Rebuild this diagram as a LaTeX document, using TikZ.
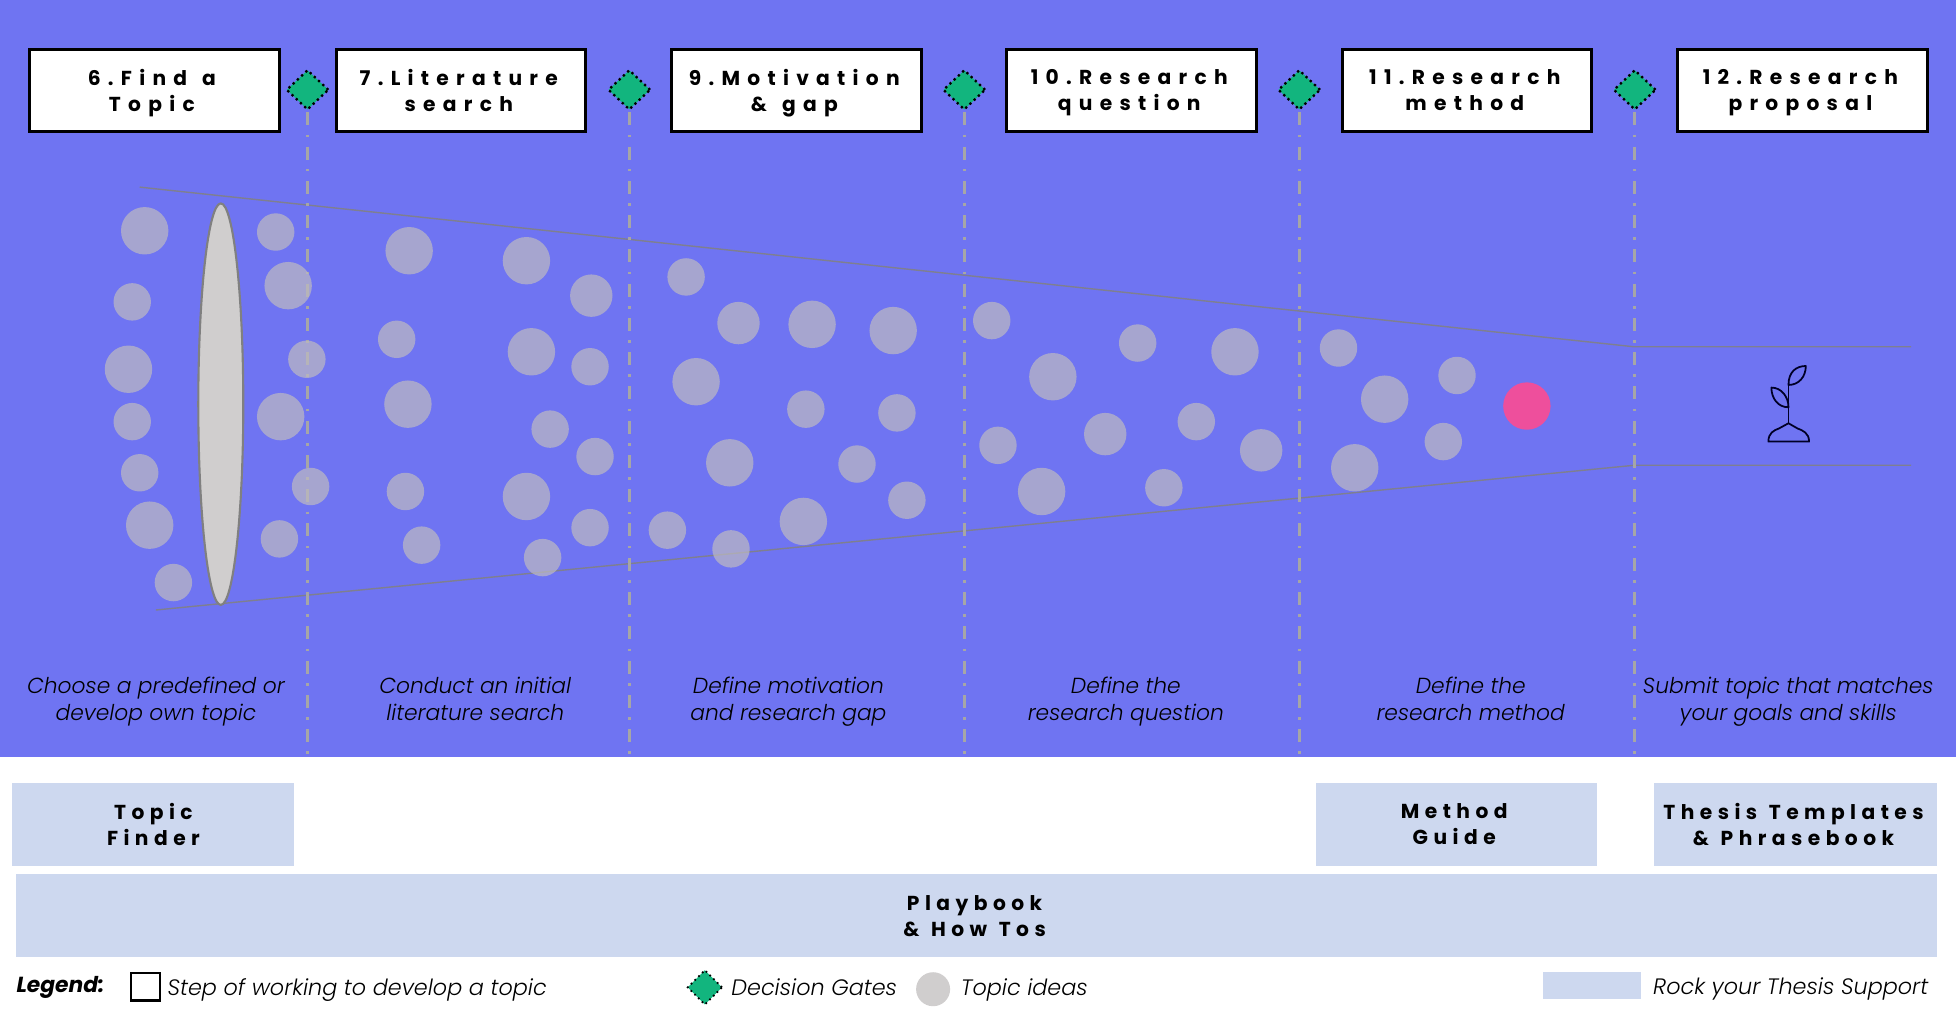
\documentclass[tikz,border=0pt]{standalone}
\usepackage{fontspec}
\usetikzlibrary{shapes.geometric}
\setmainfont{Poppins}
\newfontfamily\descfont[ItalicFont={Poppins Light Italic}]{Poppins Light}
\newfontfamily\boxfont[LetterSpace=36,WordSpace=1.3]{Poppins}
\newfontfamily\supfont[LetterSpace=27,WordSpace=1.2]{Poppins}
\definecolor{bgblue}{HTML}{6F74F2}
\definecolor{gatefill}{HTML}{12B57E}
\definecolor{idea}{HTML}{D0CECE}
\definecolor{ideadim}{HTML}{BEBBC1}
\definecolor{support}{HTML}{CDD8EF}
\definecolor{funnel}{HTML}{7F7F8F}
\definecolor{pickpink}{HTML}{EE4F9C}
\newcommand\lnk{\kern2.5pt}
\tikzset{
  twolines/.style={execute at begin node=\strut,execute at end node=\strut},
  stepbox/.style={draw=black,fill=white,line width=1.7pt,minimum width=4.99cm,minimum height=1.64cm,inner sep=0pt},
  steptext/.style={inner sep=0pt,align=center,twolines,font=\boxfont\bfseries\fontsize{11.5}{14.9}\selectfont},
  supportbox/.style={fill=support,inner sep=0pt},
  suptext/.style={inner sep=0pt,align=center,twolines,font=\supfont\bfseries\fontsize{11.5}{14.9}\selectfont},
  gate/.style={diamond,draw=black,dotted,line width=1.3pt,fill=gatefill,inner sep=0pt,minimum width=0.85cm,minimum height=0.8cm},
  gateline/.style={draw=black!35!white,line width=1.7pt,dash pattern=on 7.4pt off 5.3pt on 1.5pt off 5.3pt},
  funnelline/.style={draw=funnel,line width=0.8pt},
  ideadot/.style={circle,fill=ideadim,fill opacity=0.7,inner sep=0pt,minimum size=#1*0.0499cm},
  desc/.style={align=center,inner sep=0pt,twolines,font=\descfont\itshape\fontsize{12.4}{14.9}\selectfont},
  legendtext/.style={anchor=base west,inner sep=0pt,font=\descfont\itshape\fontsize{12.7}{14.9}\selectfont},
  sprout/.style={draw=black!85!blue,line width=1pt,line join=round},
}
\begin{document}
\begin{tikzpicture}[x=0.02495cm,y=-0.02495cm]
\useasboundingbox (0,0) rectangle (1568,814.5);
\fill[white] (0,0) rectangle (1568,814.5);
\fill[bgblue] (0,0) rectangle (1568,607);

% funnel
\coordinate (ft0) at (112,150); \coordinate (ft1) at (1310,278); \coordinate (ft2) at (1532,278);
\coordinate (fb0) at (125,489); \coordinate (fb1) at (1310,373); \coordinate (fb2) at (1532,373);
\draw[funnelline] (ft0) -- (ft1) -- (ft2);
\draw[funnelline] (fb0) -- (fb1) -- (fb2);

% step boxes
\foreach \n/\x in {6/124,7/369.5,9/638.5,10/907,11/1176,12/1445}{
  \node[stepbox] (s\n) at (\x,72.5) {};
}
\node[steptext] (t6) at (123.5,75.5) {6.Find a\lnk\\Topic\lnk};
\node[steptext] (t7) at (369.5,75.5) {7.Literature\lnk\\search\lnk};
\node[steptext] (t9) at (638.5,75.5) {9.Motivation\lnk\\\& gap\lnk};
\node[steptext] (t10) at (907,75.5) {10.Research\lnk\\question\lnk};
\node[steptext] (t11) at (1176,75.5) {11.Research\lnk\\method\lnk};
\node[steptext] (t12) at (1445,75.5) {12.Research\lnk\\proposal\lnk};

% gates and their lines
\foreach \n/\x in {1/246.5,2/504.5,3/773,4/1041.5,5/1310.5}{
  \coordinate (e\n) at (\x,607);
  \draw[gateline] (\x,90) -- (e\n);
  \node[gate] (g\n) at (\x,72) {};
}

% ellipse
\node[ellipse,draw=black!50!white,line width=1.2pt,fill=idea,inner sep=0pt,minimum width=0.9cm,minimum height=8.03cm] (lens) at (177,324) {};

% ideas
\foreach \i/\x/\y/\r in {
 a1/116/185/19,a2/106/242/15,a3/103/296/19,a4/106/338/15,a5/112/379/15,a6/120/421/19,a7/139/467/15,
 b1/221/186/15,b2/231/229/19,b3/246/288/15,b4/225/334/19,b5/249/390/15,b6/224/432/15,
 c1/328/201/19,c2/318/272/15,c3/327/324/19,c4/325/394/15,c5/338/437/15,
 d1/422/209/19,d2/474/237/17,d3/426/282/19,d4/473/294/15,d5/441/344/15,d6/477/366/15,d7/422/398/19,d8/473/423/15,d9/435/447/15,
 e1x/550/222/15,e2x/592/259/17,e3x/651/260/19,e4x/716/265/19,e5x/558/306/19,e6x/646/328/15,e7x/719/331/15,e8x/585/371/19,e9x/687/372/15,e10x/727/401/15,e11x/535/425/15,e12x/586/440/15,e13x/644/418/19,
 f1/795/257/15,f2/844/302/19,f3/912/275/15,f4/990/282/19,f5/800/357/15,f6/886/348/17,f7/959/338/15,f8/1011/361/17,f9/835/394/19,f10/933/391/15,
 h1/1073/279/15,h2/1110/320/19,h3/1168/301/15,h4/1157/354/15,h5/1086/375/19}{
  \node[ideadot=\r] (\i) at (\x,\y) {};
}
\node[circle,fill=pickpink,inner sep=0pt,minimum size=0.948cm] (pick) at (1224,325.5) {};

% sprout
\draw[sprout] (1417.6,354) -- (1450.2,354) .. controls (1450.2,347) and (1445,345) .. (1441,343.5) -- (1433.7,339.3) -- (1426,343.5) .. controls (1422,345) and (1417.6,347) .. (1417.6,354) -- cycle;
\draw[sprout] (1433.7,339.3) -- (1433.7,308.6);
\draw[sprout] (1433.7,308.6) .. controls (1433.7,298) and (1440,293.4) .. (1447.6,293.4) .. controls (1447.6,302) and (1442,308.6) .. (1433.7,308.6) -- cycle;
\draw[sprout] (1433.7,326.5) .. controls (1425,326.5) and (1420,319) .. (1420,310.7) .. controls (1428,310.7) and (1433.7,318) .. (1433.7,326.5) -- cycle;

% descriptions
\node[desc] (d6t) at (125,563.3) {Choose a predefined or\\develop own topic};
\node[desc] (d7t) at (381,563.3) {Conduct an initial\\literature search};
\node[desc] (d9t) at (632,563.3) {Define motivation\\and research gap};
\node[desc] (d10t) at (902.5,563.3) {Define the\\research question};
\node[desc] (d11t) at (1179,563.3) {Define the\\research method};
\node[desc] (d12t) at (1433.5,563.3) {Submit topic that matches\\your goals and skills};

% support
\node[supportbox,minimum width=5.64cm,minimum height=1.65cm] (topic) at (123,661) {};
\node[supportbox,minimum width=5.61cm,minimum height=1.65cm] (method) at (1167.5,661) {};
\node[supportbox,minimum width=5.66cm,minimum height=1.65cm] (thesis) at (1439.5,661) {};
\node[supportbox,minimum width=38.42cm,minimum height=1.65cm] (play) at (783,734) {};
\node[suptext] (topict) at (123,664) {Topic\\Finder};
\node[suptext] (methodt) at (1167.5,664) {Method\lnk\\Guide\lnk};
\node[suptext] (thesist) at (1439.5,664) {Thesis Templates\lnk\\\& Phrasebook\lnk};
\node[suptext] (playt) at (783,737.5) {Playbook\lnk\\\& How Tos\lnk};

% legend
\node[anchor=base west,inner sep=0pt,font=\bfseries\itshape\fontsize{12.4}{14}\selectfont] (lg) at (13,796) {Legend:};
\node[draw=black,line width=1.2pt,fill=white,inner sep=0pt,minimum width=0.57cm,minimum height=0.55cm] (lbox) at (116.5,791) {};
\node[legendtext] (lt1) at (134,798) {Step of working to develop a topic};
\node[gate,line width=1pt,minimum width=0.7cm,minimum height=0.7cm] (lgate) at (565,791.5) {};
\node[legendtext] (lt2) at (586,798) {Decision Gates};
\node[circle,fill=idea,inner sep=0pt,minimum size=0.68cm] (ldot) at (748,793) {};
\node[legendtext] (lt3) at (770,798) {Topic ideas};
\node[fill=support,inner sep=0pt,minimum width=1.95cm,minimum height=0.55cm] (lsup) at (1276,790) {};
\node[legendtext] (lt4) at (1325,797) {Rock your Thesis Support};
\end{tikzpicture}
\end{document}
